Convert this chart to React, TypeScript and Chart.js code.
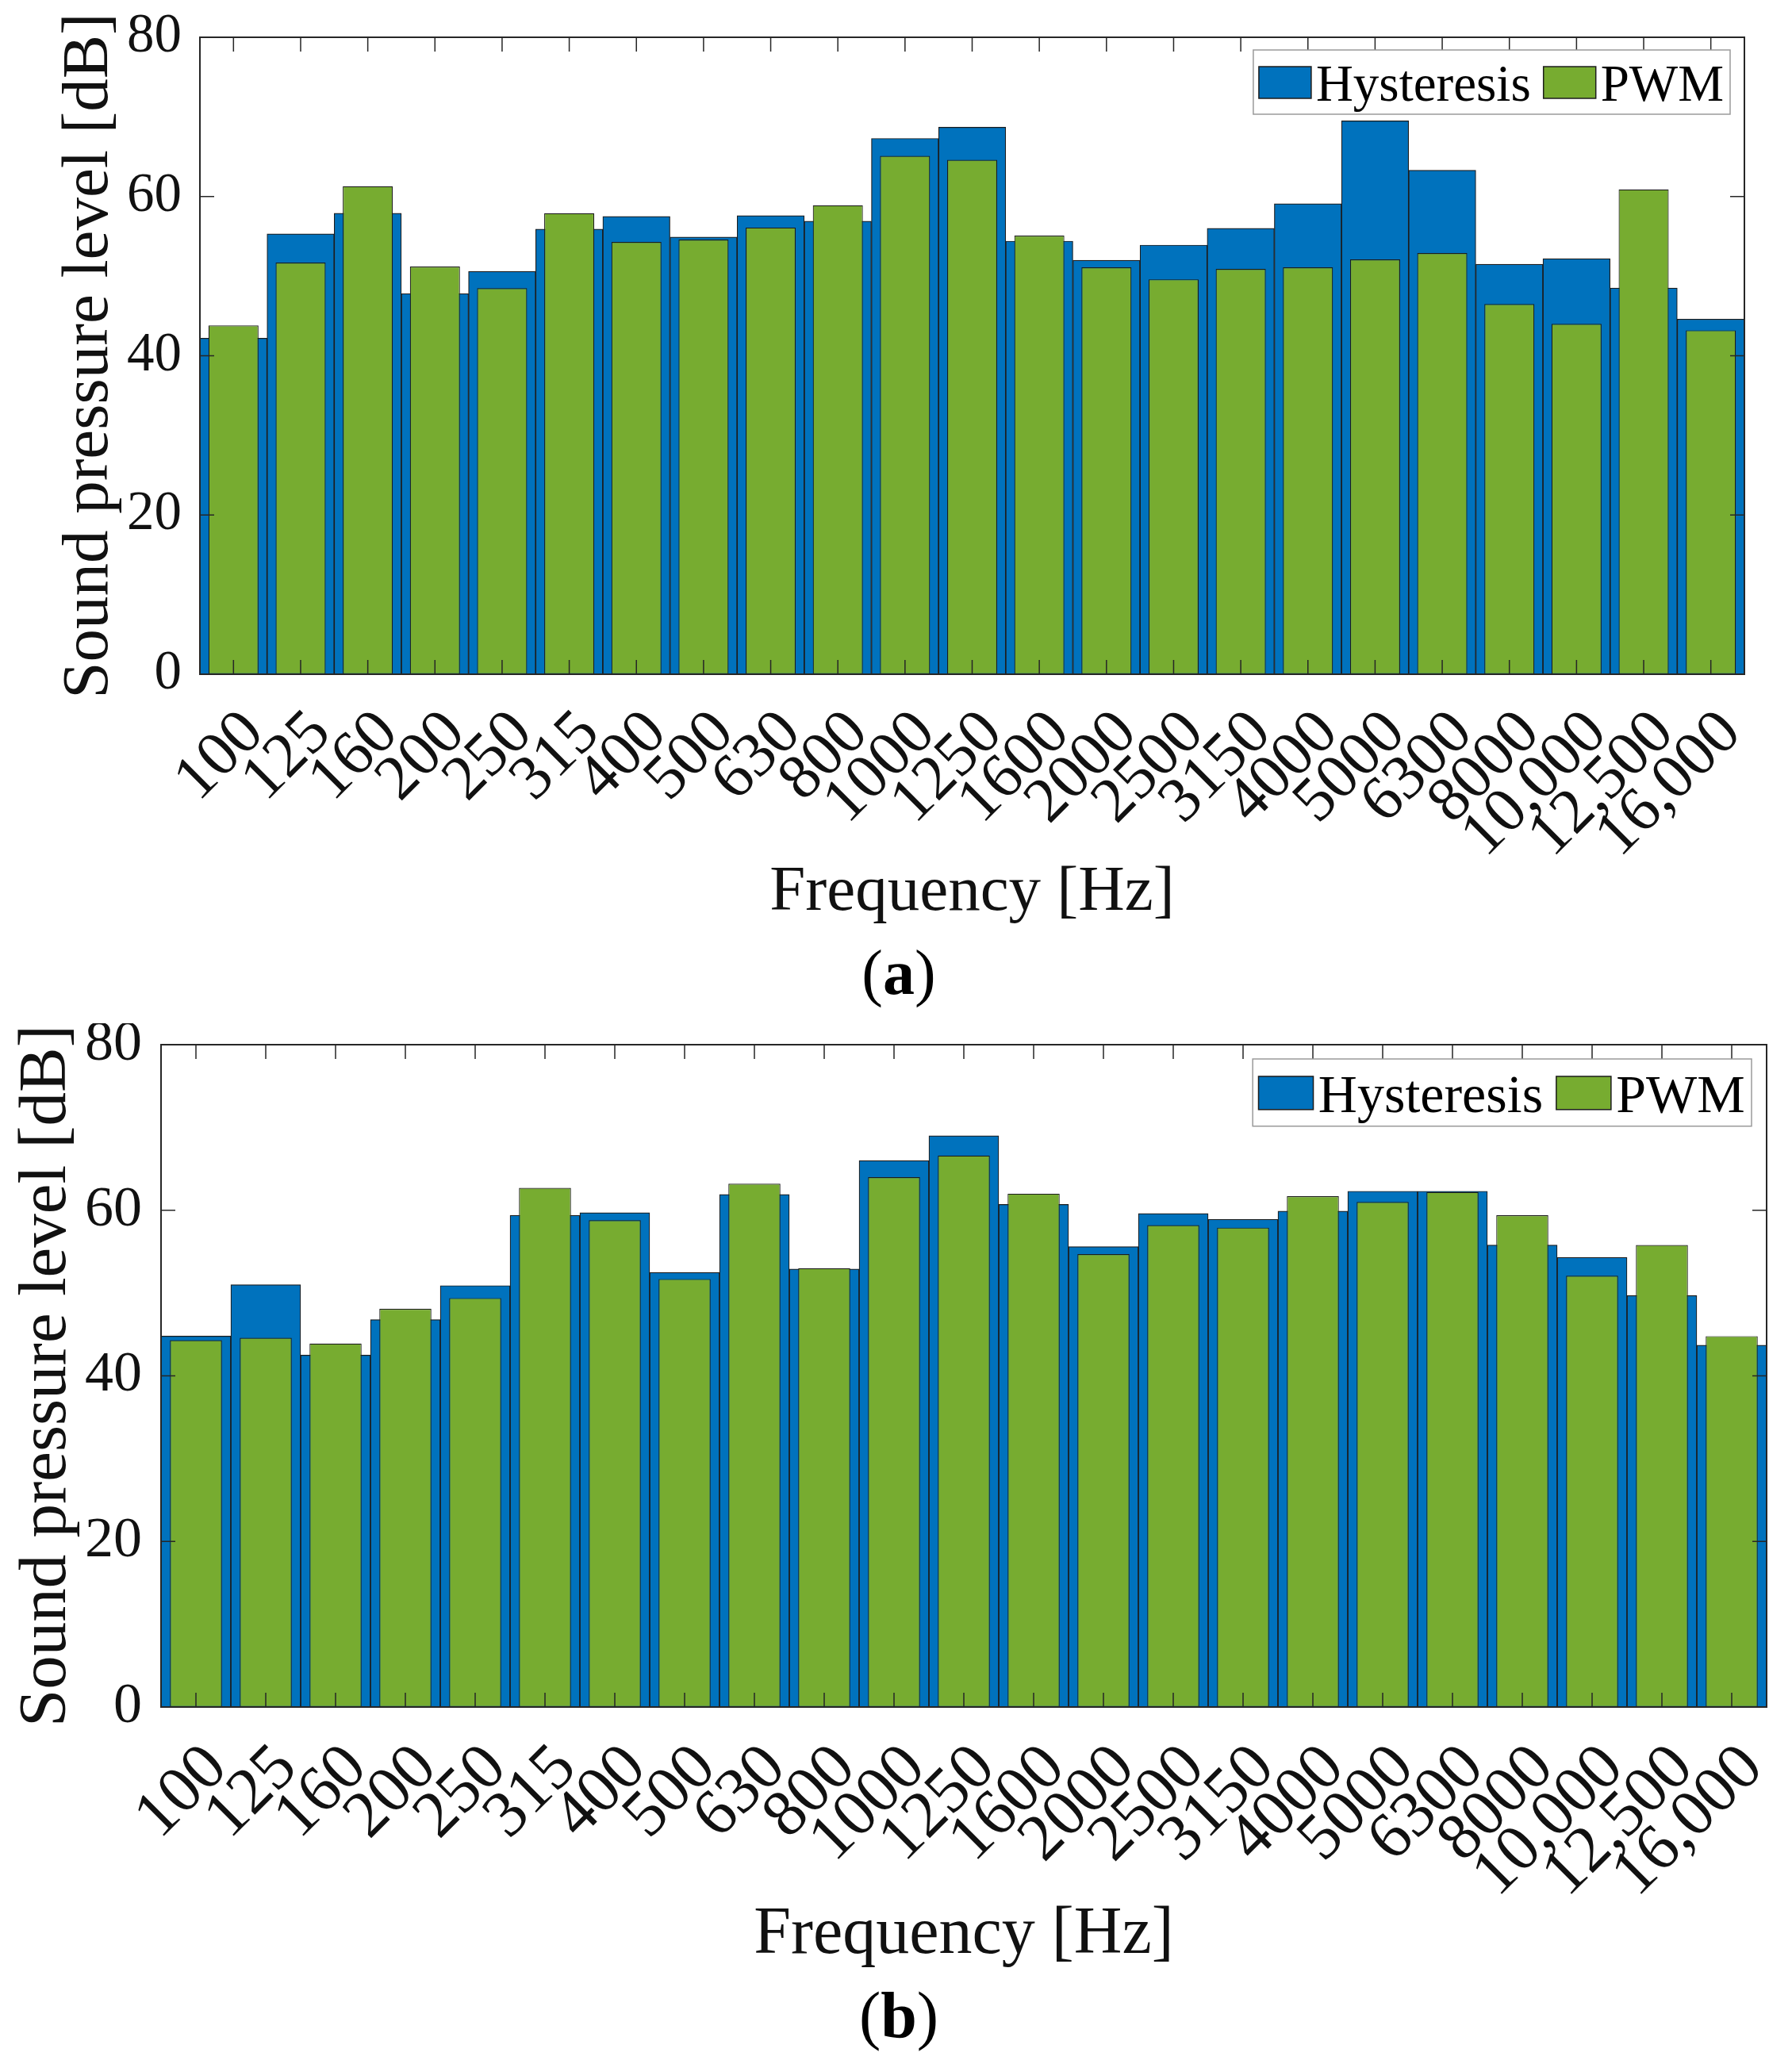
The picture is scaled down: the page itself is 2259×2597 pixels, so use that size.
import React, { useEffect, useRef } from 'react';
import { Chart, registerables } from 'chart.js';

Chart.register(...registerables);

// ---------- data ----------
const frequencyLabels = [
  '100', '125', '160', '200', '250', '315', '400', '500', '630', '800', '1000', '1250',
  '1600', '2000', '2500', '3150', '4000', '5000', '6300', '8000', '10,000', '12,500', '16,000',
];
const yTickValues = [0, 20, 40, 60, 80];

const hysteresisA = [42.2, 55.3, 57.9, 47.8, 50.6, 55.9, 57.5, 54.9, 57.6, 56.9, 67.3, 68.7, 54.4, 52.0, 53.9, 56.0, 59.1, 69.5, 63.3, 51.5, 52.2, 48.5, 44.6];
const pwmA = [43.8, 51.7, 61.3, 51.2, 48.5, 57.9, 54.3, 54.6, 56.1, 58.9, 65.1, 64.6, 55.1, 51.1, 49.6, 50.9, 51.1, 52.1, 52.9, 46.5, 44.0, 60.9, 43.2];

const hysteresisB = [44.8, 51.0, 42.5, 46.8, 50.9, 59.4, 59.7, 52.5, 61.9, 52.9, 66.0, 69.0, 60.7, 55.6, 59.6, 58.9, 59.9, 62.3, 62.3, 55.8, 54.3, 49.7, 43.7];
const pwmB = [44.3, 44.6, 43.9, 48.1, 49.4, 62.7, 58.8, 51.7, 63.2, 53.0, 64.0, 66.6, 62.0, 54.7, 58.2, 57.9, 61.7, 61.0, 62.2, 59.4, 52.1, 55.8, 44.8];

// ---------- style ----------
const FONT = "'Liberation Serif', 'Times New Roman', serif";
const BLUE = '#0072BD';
const GREEN = '#77AC30';
const EDGE = '#1c1c1c';
const AXIS = '#262626';
const TEXT = '#111111';
const W = 2259;

interface PanelSpec {
  canvasTop: number;
  height: number;
  left: number;
  right: number;
  top: number;
  bottom: number;
  xAxisH: number;
  tickFont: number;
  xTickFont: number;
  xTitleFont: number;
  yTitleFont: number;
  yTitleCenterX: number;
  xTitleCenterY: number;
  yTickPad: number;
  xTickPad: number;
  xLabelShift: number;
  tickLen: number;
  legendFont: number;
  legendRightGap: number;
  legendTopGap: number;
  letter: string;
  labelX: number;
  labelBaseline: number;
  labelFont: number;
  hyst: number[];
  pwm: number[];
}

const panelA: PanelSpec = {
  canvasTop: 0, height: 1290,
  left: 252, right: 2199, top: 47, bottom: 850, xAxisH: 340,
  tickFont: 69, xTickFont: 80, xTitleFont: 81, yTitleFont: 83,
  yTitleCenterX: 113, xTitleCenterY: 1126,
  yTickPad: 23, xTickPad: 28, xLabelShift: 26, tickLen: 18,
  legendFont: 65, legendRightGap: 18, legendTopGap: 16,
  letter: 'a', labelX: 1133, labelBaseline: 1253, labelFont: 80,
  hyst: hysteresisA, pwm: pwmA,
};

const panelB: PanelSpec = {
  canvasTop: 1290, height: 1307,
  left: 203, right: 2227, top: 27, bottom: 862, xAxisH: 340,
  tickFont: 72, xTickFont: 83, xTitleFont: 84, yTitleFont: 85,
  yTitleCenterX: 60, xTitleCenterY: 1150,
  yTickPad: 24, xTickPad: 29, xLabelShift: 27, tickLen: 18,
  legendFont: 68, legendRightGap: 19, legendTopGap: 18,
  letter: 'b', labelX: 1133, labelBaseline: 1278, labelFont: 82,
  hyst: hysteresisB, pwm: pwmB,
};

function makeOverlay(spec: PanelSpec) {
  return {
    id: 'overlay' + spec.letter,
    afterDatasetsDraw(chart: any) {
      const ctx: CanvasRenderingContext2D = chart.ctx;
      const ca = chart.chartArea;
      const xs = chart.scales.x;
      const ys = chart.scales.y;
      ctx.save();
      // ticks inside, on all four sides
      ctx.strokeStyle = AXIS;
      ctx.lineWidth = 1.5;
      ctx.beginPath();
      for (let i = 0; i < frequencyLabels.length; i++) {
        const px = xs.getPixelForTick(i);
        ctx.moveTo(px, ca.bottom);
        ctx.lineTo(px, ca.bottom - spec.tickLen);
        ctx.moveTo(px, ca.top);
        ctx.lineTo(px, ca.top + spec.tickLen);
      }
      for (const v of yTickValues) {
        const py = ys.getPixelForValue(v);
        ctx.moveTo(ca.left, py);
        ctx.lineTo(ca.left + spec.tickLen, py);
        ctx.moveTo(ca.right, py);
        ctx.lineTo(ca.right - spec.tickLen, py);
      }
      ctx.stroke();
      // frame
      ctx.lineWidth = 2;
      ctx.strokeRect(ca.left, ca.top, ca.right - ca.left, ca.bottom - ca.top);

      // legend
      const k = spec.legendFont / 65;
      ctx.font = `${spec.legendFont}px ${FONT}`;
      const wH = ctx.measureText('Hysteresis').width;
      const wP = ctx.measureText('PWM').width;
      const padL = 7 * k, sw = 66 * k, sh = 40 * k, gapT = 6 * k, gapItem = 16 * k, padR = 8 * k;
      const boxH = 81 * k, swTop = 21 * k, base = 64 * k;
      const boxW = padL + sw + gapT + wH + gapItem + sw + gapT + wP + padR;
      const bx = ca.right - spec.legendRightGap - boxW;
      const by = ca.top + spec.legendTopGap;
      ctx.fillStyle = '#ffffff';
      ctx.fillRect(bx, by, boxW, boxH);
      ctx.strokeStyle = '#9a9a9a';
      ctx.lineWidth = 1.5;
      ctx.strokeRect(bx, by, boxW, boxH);
      const items = [
        { label: 'Hysteresis', color: BLUE, w: wH },
        { label: 'PWM', color: GREEN, w: wP },
      ];
      let cx = bx + padL;
      ctx.textAlign = 'left';
      ctx.textBaseline = 'alphabetic';
      for (const it of items) {
        ctx.fillStyle = it.color;
        ctx.fillRect(cx, by + swTop, sw, sh);
        ctx.strokeStyle = EDGE;
        ctx.lineWidth = 1.5;
        ctx.strokeRect(cx, by + swTop, sw, sh);
        cx += sw + gapT;
        ctx.fillStyle = '#000000';
        ctx.fillText(it.label, cx, by + base);
        cx += it.w + gapItem;
      }
      ctx.restore();
    },
    afterDraw(chart: any) {
      const ctx: CanvasRenderingContext2D = chart.ctx;
      ctx.save();
      const normal = `${spec.labelFont}px ${FONT}`;
      const bold = `bold ${spec.labelFont}px ${FONT}`;
      ctx.font = normal;
      const wp1 = ctx.measureText('(').width;
      const wp2 = ctx.measureText(')').width;
      ctx.font = bold;
      const wl = ctx.measureText(spec.letter).width;
      const total = wp1 + wl + wp2;
      let x = spec.labelX - total / 2;
      ctx.fillStyle = '#000000';
      ctx.textAlign = 'left';
      ctx.textBaseline = 'alphabetic';
      ctx.font = normal;
      ctx.fillText('(', x, spec.labelBaseline);
      x += wp1;
      ctx.font = bold;
      ctx.fillText(spec.letter, x, spec.labelBaseline);
      x += wl;
      ctx.font = normal;
      ctx.fillText(')', x, spec.labelBaseline);
      ctx.restore();
    },
  };
}

function Panel({ spec }: { spec: PanelSpec }) {
  const ref = useRef<HTMLCanvasElement | null>(null);
  useEffect(() => {
    if (!ref.current) return;
    const xTitleLH = spec.xTitleFont * 1.2;
    const yTitleLH = spec.yTitleFont * 1.2;
    const chart = new Chart(ref.current, {
      type: 'bar',
      data: {
        labels: frequencyLabels,
        datasets: [
          {
            label: 'Hysteresis',
            data: spec.hyst,
            backgroundColor: BLUE,
            borderColor: EDGE,
            borderWidth: 1.2,
            borderSkipped: false,
            barPercentage: 1,
            categoryPercentage: 1,
            grouped: false,
            order: 1,
          } as any,
          {
            label: 'PWM',
            data: spec.pwm,
            backgroundColor: GREEN,
            borderColor: EDGE,
            borderWidth: 1.2,
            borderSkipped: false,
            barPercentage: 0.745,
            categoryPercentage: 1,
            grouped: false,
            order: 0,
          } as any,
        ],
      },
      options: {
        responsive: false,
        maintainAspectRatio: false,
        animation: false,
        devicePixelRatio: 1,
        layout: {
          padding: {
            left: 0,
            top: spec.top,
            right: W - spec.right,
            bottom: spec.height - spec.bottom - spec.xAxisH,
          },
        },
        plugins: {
          legend: { display: false },
          tooltip: { enabled: false },
          title: { display: false },
        },
        scales: {
          x: {
            type: 'category',
            offset: true,
            grid: { display: false, drawTicks: false },
            border: { display: false },
            ticks: {
              autoSkip: false,
              maxRotation: 45,
              minRotation: 45,
              padding: spec.xTickPad,
              labelOffset: spec.xLabelShift,
              color: TEXT,
              font: { family: FONT, size: spec.xTickFont },
            },
            title: {
              display: true,
              text: 'Frequency [Hz]',
              color: TEXT,
              font: { family: FONT, size: spec.xTitleFont },
              padding: { top: 0, bottom: spec.bottom + spec.xAxisH - spec.xTitleCenterY - xTitleLH / 2 },
            },
            afterFit: (s: any) => {
              s.height = spec.xAxisH;
              s.paddingLeft = 0;
              s.paddingRight = 0;
            },
          },
          y: {
            min: 0,
            max: 80,
            grid: { display: false, drawTicks: false },
            border: { display: false },
            ticks: {
              stepSize: 20,
              padding: spec.yTickPad,
              color: TEXT,
              font: { family: FONT, size: spec.tickFont },
            },
            title: {
              display: true,
              text: 'Sound pressure level [dB]',
              color: TEXT,
              font: { family: FONT, size: spec.yTitleFont },
              padding: { top: spec.yTitleCenterX - yTitleLH / 2, bottom: 0 },
            },
            afterFit: (s: any) => {
              s.width = spec.left;
              s.paddingTop = 0;
              s.paddingBottom = 0;
            },
          },
        },
      } as any,
      plugins: [makeOverlay(spec)],
    });
    return () => chart.destroy();
  }, [spec]);

  return (
    <canvas
      ref={ref}
      width={W}
      height={spec.height}
      style={{
        position: 'absolute',
        left: 0,
        top: spec.canvasTop,
        width: W,
        height: spec.height,
        display: 'block',
      }}
    />
  );
}

export default function App() {
  return (
    <div
      style={{
        position: 'absolute',
        left: 0,
        top: 0,
        width: W,
        height: 2597,
        background: '#ffffff',
        overflow: 'hidden',
      }}
    >
      <Panel spec={panelA} />
      <Panel spec={panelB} />
    </div>
  );
}
